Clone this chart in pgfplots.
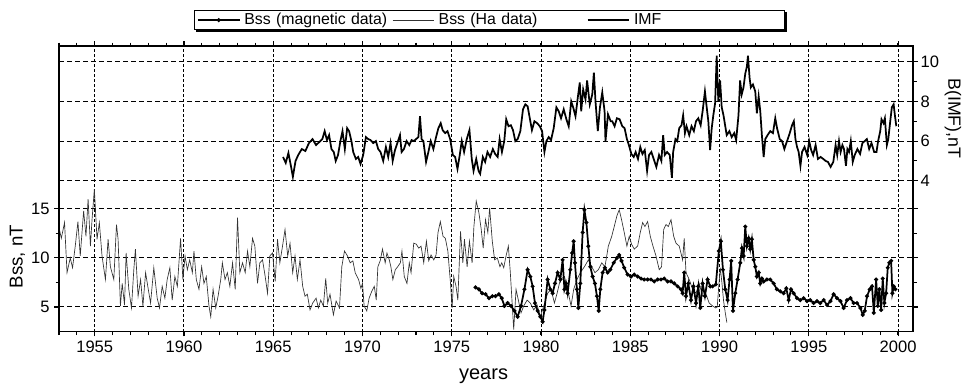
\documentclass[border=0pt]{standalone}
\usepackage{fontspec}
\setmainfont{Liberation Sans}
\usepackage{pgfplots}
\pgfplotsset{compat=1.18}

\begin{document}
\begin{tikzpicture}
\useasboundingbox (0pt,0pt) rectangle (722.25pt,290.25pt);
\pgfplotsset{
  magstyle/.style={black, line width=1.3pt, mark=*, mark size=0.75pt, mark options={solid}},
  hastyle/.style={black!80, line width=0.5pt, mark=none},
  imfstyle/.style={black, line width=1.3pt, mark=none},
  /pgf/number format/assume math mode=true,
  /pgf/number format/1000 sep={},
}
% ---------------- Bss axis (left) ----------------
\begin{axis}[
  at={(44.25pt,41.475pt)}, anchor=south west,
  scale only axis, width=640.7pt, height=214.3pt,
  xmin=1953, xmax=2000.85,
  ymin=2.48, ymax=31.6,
  axis line style={line width=0.8pt},
  tick align=outside,
  xtick={1955,1960,...,2000},
  minor xtick={1953,...,2000},
  ytick={10,15},
  extra y ticks={5},
  extra y tick style={grid style={black!45, line width=0.6pt, dash pattern=on 3.75pt off 2.25pt}},
  minor ytick={7.5,12.5},
  major tick length=3.5pt, minor tick length=2.5pt,
  tick style={black, line width=0.8pt},
  xmajorgrids, ymajorgrids,
  x grid style={black, line width=0.75pt, dash pattern=on 2.25pt off 1.5pt},
  y grid style={black, line width=0.75pt, dash pattern=on 3.75pt off 2.25pt},
  ticklabel style={font=\fontsize{12.4}{14}\selectfont},
  xlabel={years}, ylabel={Bss, nT},
  every axis x label/.style={at={(axis description cs:0.497,-0.155)}, anchor=center, font=\fontsize{15}{17}\selectfont},
  every axis y label/.style={at={(axis description cs:-0.0486,0.263)}, anchor=center, rotate=90, font=\fontsize{14}{16}\selectfont},
  clip=true,
]
\addplot[hastyle] coordinates {
(1953.00,13.1)(1953.13,12.0)(1953.31,13.6)(1953.45,8.5)(1953.63,10.0)(1953.76,9.0)(1953.91,11.2)
(1954.06,13.7)(1954.19,10.2)(1954.38,14.8)(1954.51,12.2)(1954.63,16.0)(1954.76,11.2)(1954.85,13.9)
(1954.98,17.0)(1955.13,11.9)(1955.26,13.6)(1955.41,10.2)(1955.60,7.8)(1955.75,11.9)(1955.88,9.1)
(1956.07,7.8)(1956.22,13.4)(1956.31,11.9)(1956.44,5.1)(1956.54,7.4)(1956.67,5.2)(1956.76,10.5)
(1956.91,6.8)(1957.06,4.9)(1957.19,8.8)(1957.28,10.9)(1957.43,6.1)(1957.57,7.8)(1957.70,5.1)
(1957.85,8.5)(1958.00,6.8)(1958.13,5.4)(1958.31,9.0)(1958.50,5.9)(1958.63,4.9)(1958.78,7.1)
(1958.93,5.9)(1959.06,7.8)(1959.21,9.0)(1959.34,5.7)(1959.49,8.1)(1959.63,7.1)(1959.81,12.0)
(1959.94,7.8)(1960.06,10.2)(1960.19,8.8)(1960.32,9.8)(1960.47,8.5)(1960.56,10.7)(1960.69,7.8)
(1960.84,6.8)(1960.99,9.1)(1961.12,7.4)(1961.25,8.1)(1961.40,5.1)(1961.50,4.0)(1961.63,6.8)
(1961.78,4.9)(1961.91,6.1)(1962.06,7.8)(1962.15,9.5)(1962.30,7.8)(1962.43,8.5)(1962.57,7.1)
(1962.72,9.5)(1962.87,6.8)(1963.00,14.1)(1963.13,8.5)(1963.28,9.5)(1963.43,8.5)(1963.56,10.7)
(1963.69,9.1)(1963.84,12.0)(1963.97,11.2)(1964.12,7.4)(1964.25,9.5)(1964.40,9.8)(1964.55,8.1)
(1964.68,6.4)(1964.81,10.2)(1964.96,10.5)(1965.11,7.6)(1965.24,11.9)(1965.37,9.5)(1965.52,11.2)
(1965.66,12.9)(1965.81,10.2)(1965.94,11.5)(1966.09,8.5)(1966.22,10.2)(1966.35,7.8)(1966.50,9.8)
(1966.65,7.1)(1966.78,6.1)(1966.91,6.3)(1967.06,4.7)(1967.21,5.4)(1967.40,5.9)(1967.53,4.9)
(1967.66,5.7)(1967.81,5.1)(1967.94,7.9)(1968.05,5.4)(1968.18,6.3)(1968.37,4.2)(1968.52,5.6)
(1968.71,4.9)(1968.84,9.1)(1968.99,10.7)(1969.16,10.2)(1969.31,9.5)(1969.46,9.7)(1969.59,8.5)
(1969.78,7.8)(1969.91,6.9)(1970.00,7.4)(1970.09,5.1)(1970.24,4.6)(1970.37,5.9)(1970.52,6.6)
(1970.66,7.1)(1970.77,5.7)(1970.86,9.1)(1970.99,9.7)(1971.12,10.9)(1971.27,9.5)(1971.37,10.5)
(1971.50,9.8)(1971.59,9.1)(1971.70,7.8)(1971.84,8.8)(1971.97,9.1)(1972.12,9.5)(1972.21,10.7)
(1972.34,8.1)(1972.49,7.4)(1972.62,9.5)(1972.72,8.5)(1972.87,11.5)(1973.01,11.4)(1973.15,11.0)
(1973.28,11.2)(1973.43,9.5)(1973.58,11.7)(1973.71,9.7)(1973.84,10.3)(1973.99,9.8)(1974.12,10.3)
(1974.23,12.6)(1974.36,13.7)(1974.51,12.2)(1974.64,12.0)(1974.78,10.7)(1974.93,7.4)(1975.02,4.9)
(1975.11,8.1)(1975.24,7.1)(1975.34,5.7)(1975.49,12.7)(1975.62,9.5)(1975.71,11.9)(1975.86,9.1)
(1975.99,11.7)(1976.14,9.5)(1976.24,13.2)(1976.37,15.8)(1976.52,14.6)(1976.65,12.9)(1976.76,11.0)
(1976.89,13.9)(1977.02,12.6)(1977.12,15.1)(1977.27,11.7)(1977.40,9.8)(1977.55,10.0)(1977.70,9.1)
(1977.80,9.5)(1977.91,9.0)(1978.04,10.2)(1978.17,11.2)(1978.28,8.5)(1978.47,2.7)(1978.60,6.8)
(1978.73,5.7)(1978.88,4.4)(1979.03,5.1)(1979.22,5.7)(1979.40,5.4)(1979.59,4.7)(1979.78,5.2)
(1979.96,4.0)(1980.15,5.1)(1980.37,6.4)(1980.56,6.8)(1980.75,5.4)(1980.90,6.4)(1981.08,7.8)
(1981.31,8.1)(1981.49,6.8)(1981.68,5.1)(1981.83,6.8)(1982.01,7.8)(1982.20,8.5)(1982.43,9.1)
(1982.65,9.8)(1982.84,9.1)(1983.02,8.5)(1983.21,8.8)(1983.40,9.5)(1983.58,9.1)(1983.77,11.2)
(1983.96,12.2)(1984.10,13.2)(1984.25,14.3)(1984.38,14.9)(1984.51,13.9)(1984.66,12.6)(1984.81,11.2)
(1984.94,12.2)(1985.07,11.4)(1985.22,10.9)(1985.41,11.2)(1985.56,12.6)(1985.69,13.6)(1985.82,13.2)
(1985.97,13.7)(1986.12,12.2)(1986.27,11.2)(1986.44,10.2)(1986.62,8.8)(1986.75,9.1)(1986.87,12.9)
(1987.00,13.4)(1987.13,13.2)(1987.28,13.9)(1987.43,12.2)(1987.56,11.5)(1987.74,11.2)(1987.93,9.8)
(1988.02,12.0)(1988.12,8.5)(1988.30,7.8)(1988.49,6.8)(1988.68,6.4)(1988.86,7.4)(1989.05,6.1)
(1989.24,6.3)(1989.42,5.4)(1989.61,5.1)(1989.79,4.9)(1989.87,5.0)(1989.95,7.0)(1990.04,9.0)
(1990.13,7.5)(1990.22,5.7)(1990.32,4.4)(1990.41,3.4)
};
\addplot[magstyle] coordinates {
(1976.33,7.0)(1976.52,6.8)(1976.70,6.4)(1976.89,6.3)(1977.08,5.9)(1977.27,6.1)(1977.45,6.1)
(1977.64,6.3)(1977.80,5.9)(1977.95,5.1)(1978.13,5.4)(1978.32,5.1)(1978.51,4.6)(1978.69,4.0)
(1978.88,5.1)(1979.07,6.8)(1979.25,8.8)(1979.40,8.1)(1979.53,7.1)(1979.66,5.4)(1979.81,4.6)
(1979.96,4.0)(1980.09,3.5)(1980.19,4.7)(1980.37,7.8)(1980.52,6.8)(1980.65,6.4)(1980.78,7.4)
(1980.93,8.5)(1981.08,7.8)(1981.21,9.8)(1981.31,6.8)(1981.40,7.4)(1981.49,6.4)(1981.64,8.8)
(1981.74,10.5)(1981.83,11.7)(1981.90,9.5)(1982.01,6.8)(1982.09,4.9)(1982.20,7.4)(1982.33,12.6)
(1982.43,14.9)(1982.54,13.6)(1982.65,11.2)(1982.76,9.1)(1982.89,8.1)(1983.02,7.4)(1983.13,6.1)
(1983.23,4.6)(1983.32,6.8)(1983.45,8.5)(1983.58,9.0)(1983.73,8.5)(1983.88,8.8)(1984.07,9.5)
(1984.25,10.0)(1984.38,10.3)(1984.51,9.7)(1984.66,9.0)(1984.85,8.3)(1985.04,8.1)(1985.22,8.3)
(1985.41,8.1)(1985.60,7.9)(1985.78,7.8)(1985.97,7.8)(1986.16,7.8)(1986.34,7.6)(1986.53,7.8)
(1986.72,7.8)(1986.90,7.9)(1987.09,7.6)(1987.28,7.6)(1987.46,7.4)(1987.65,7.1)(1987.84,6.8)
(1987.93,6.4)(1988.02,8.5)(1988.12,6.1)(1988.25,7.4)(1988.40,5.7)(1988.54,7.1)(1988.68,5.4)
(1988.81,7.1)(1988.92,4.9)(1989.05,7.4)(1989.18,6.1)(1989.33,7.8)(1989.48,7.1)(1989.61,7.1)
(1989.79,7.3)(1989.96,10.7)(1990.07,11.7)(1990.19,8.8)(1990.32,6.8)(1990.45,5.7)(1990.56,7.8)
(1990.65,9.7)(1990.75,4.6)(1990.88,6.4)(1991.01,7.8)(1991.16,9.5)(1991.25,11.0)(1991.35,10.2)
(1991.44,13.2)(1991.53,11.2)(1991.63,12.0)(1991.72,10.9)(1991.81,11.9)(1991.91,9.8)(1992.00,9.1)
(1992.09,8.1)(1992.19,8.5)(1992.28,7.4)(1992.37,7.9)(1992.47,7.6)(1992.65,7.8)(1992.84,7.8)
(1993.03,7.4)(1993.21,6.8)(1993.40,6.6)(1993.59,6.4)(1993.74,6.9)(1993.87,5.7)(1994.00,6.8)
(1994.15,6.4)(1994.34,5.9)(1994.52,5.7)(1994.71,5.9)(1994.90,5.6)(1995.08,5.7)(1995.27,5.4)
(1995.46,5.6)(1995.64,5.4)(1995.83,5.7)(1996.02,5.2)(1996.21,5.6)(1996.39,6.3)(1996.58,5.9)
(1996.77,5.6)(1996.95,4.9)(1997.14,5.7)(1997.33,5.9)(1997.51,5.4)(1997.70,5.4)(1997.89,4.9)
(1998.02,4.2)(1998.13,4.6)(1998.26,6.1)(1998.41,6.8)(1998.54,7.1)(1998.64,4.4)(1998.77,7.8)
(1998.86,5.1)(1998.95,6.8)(1999.05,4.7)(1999.14,7.9)(1999.23,5.4)(1999.33,6.4)(1999.42,9.0)
(1999.51,9.5)(1999.61,9.7)(1999.68,6.4)(1999.76,7.1)(1999.85,6.8)
};
\draw[line width=1.6pt] (rel axis cs:0,0) -- (rel axis cs:1,0);
\draw[line width=1.6pt] (rel axis cs:0,0) -- (rel axis cs:0,1);
\end{axis}
% ---------------- IMF axis (right) ----------------
\begin{axis}[
  at={(44.25pt,41.475pt)}, anchor=south west,
  scale only axis, width=640.7pt, height=214.3pt,
  xmin=1953, xmax=2000.85,
  ymin=-3.6, ymax=10.79,
  axis x line=none,
  axis y line*=right,
  y axis line style={line width=1.6pt, -},
  tick align=outside,
  ytick={4,6,8},
  extra y ticks={10},
  extra y tick style={grid style={black!45, line width=0.6pt, dash pattern=on 3.75pt off 2.25pt}},
  minor ytick={5,7,9},
  major tick length=3.5pt, minor tick length=2.5pt,
  tick style={black, line width=0.8pt},
  ymajorgrids,
  y grid style={black, line width=0.75pt, dash pattern=on 3.75pt off 2.25pt},
  ticklabel style={font=\fontsize{12.4}{14}\selectfont},
  yticklabel style={xshift=-1.5pt},
  ylabel={B(IMF),nT},
  every axis y label/.style={at={(axis description cs:1.0465,0.747)}, anchor=center, rotate=-90, font=\fontsize{13.3}{15}\selectfont},
  legend columns=3,
  legend image code/.code={\draw[mark repeat=2,mark phase=2,#1] plot coordinates {(0pt,0pt) (15.6pt,0pt) (31.2pt,0pt)};},
  legend style={at={(axis description cs:0.504,1.056)}, anchor=south, name=leg,
    draw=black, line width=0.6pt, fill=white,
    inner xsep=2pt, inner ysep=0.5pt,
    font=\fontsize{11.9}{13}\selectfont,
    nodes={text width=108pt, align=left, inner xsep=3pt, inner ysep=1.5pt},
    /tikz/every even column/.style={column sep=0pt}},
]
\addlegendimage{magstyle}
\addlegendentry{Bss (magnetic data)}
\addlegendimage{hastyle}
\addlegendentry{Bss (Ha data)}
\addplot[imfstyle] coordinates {
(1965.55,5.2)(1965.70,4.9)(1965.85,5.4)(1966.00,4.7)(1966.10,4.2)(1966.25,5.0)(1966.40,5.3)
(1966.60,5.6)(1966.80,5.5)(1967.00,5.9)(1967.20,6.1)(1967.40,5.8)
(1967.60,5.97)(1967.75,6.1)(1967.88,6.5)(1968.01,6.05)(1968.13,6.3)(1968.26,5.6)(1968.39,5.45)
(1968.50,5.0)(1968.63,5.3)(1968.76,6.0)(1968.88,6.5)(1969.01,5.6)(1969.14,6.65)(1969.25,6.5)
(1969.38,6.0)(1969.48,5.45)(1969.63,5.1)(1969.76,5.2)(1969.89,4.85)(1970.04,5.3)(1970.19,6.2)
(1970.32,6.1)(1970.45,6.05)(1970.60,5.9)(1970.75,6.0)(1970.88,5.6)(1971.01,5.45)(1971.16,5.0)
(1971.31,5.7)(1971.44,5.2)(1971.57,5.9)(1971.69,5.0)(1971.82,5.55)(1971.95,5.9)(1972.10,6.3)
(1972.19,5.45)(1972.32,5.6)(1972.47,6.0)(1972.62,5.8)(1972.75,6.05)(1972.88,6.0)(1973.00,6.1)
(1973.13,6.2)(1973.22,7.25)(1973.31,6.1)(1973.41,6.0)(1973.56,4.95)(1973.69,5.45)(1973.82,6.0)
(1973.97,5.6)(1974.12,6.2)(1974.25,6.65)(1974.38,6.9)(1974.49,6.55)(1974.63,6.4)(1974.76,6.5)
(1974.91,6.1)(1975.06,5.3)(1975.19,5.2)(1975.32,4.6)(1975.43,5.2)(1975.56,6.0)(1975.69,5.45)
(1975.84,6.1)(1975.99,6.55)(1976.12,5.1)(1976.22,4.5)(1976.37,5.1)(1976.50,4.5)(1976.59,4.35)
(1976.74,5.2)(1976.87,4.95)(1977.00,5.45)(1977.15,5.2)(1977.30,5.6)(1977.43,5.35)(1977.57,5.2)
(1977.68,6.1)(1977.81,5.45)(1977.94,6.0)(1978.05,7.1)(1978.18,6.75)(1978.31,6.8)(1978.43,6.55)
(1978.56,6.0)(1978.69,6.1)(1978.84,6.5)(1978.99,7.6)(1979.12,7.85)(1979.25,7.75)(1979.40,7.0)
(1979.49,6.55)(1979.63,7.0)(1979.78,6.9)(1979.93,6.75)(1980.06,6.5)(1980.19,5.45)(1980.30,6.0)
(1980.43,6.2)(1980.56,6.05)(1980.71,6.65)(1980.86,7.7)(1980.99,7.5)(1981.12,7.15)(1981.27,7.6)
(1981.42,7.1)(1981.55,6.75)(1981.69,8.0)(1981.80,7.7)(1981.93,7.25)(1982.06,8.2)(1982.17,8.95)
(1982.25,7.5)(1982.36,8.6)(1982.49,8.1)(1982.58,9.05)(1982.73,7.85)(1982.87,8.35)(1982.96,9.45)
(1983.05,8.0)(1983.18,6.5)(1983.30,7.7)(1983.43,8.45)(1983.56,7.5)(1983.61,6.0)(1983.75,7.35)
(1983.90,7.0)(1983.99,7.0)(1984.12,6.75)(1984.25,7.15)(1984.40,7.1)(1984.55,6.75)(1984.68,6.65)
(1984.81,6.1)(1984.92,5.8)(1985.06,5.35)(1985.19,5.2)(1985.30,5.45)(1985.43,5.1)(1985.56,5.7)
(1985.68,5.35)(1985.81,5.55)(1985.94,4.5)(1986.05,5.3)(1986.18,5.45)(1986.31,5.1)(1986.46,4.7)
(1986.61,5.3)(1986.74,5.0)(1986.84,6.3)(1986.93,5.3)(1987.06,5.45)(1987.21,5.3)(1987.33,4.15)
(1987.40,5.45)(1987.53,6.1)(1987.63,6.0)(1987.74,6.65)(1987.87,6.8)(1987.96,7.3)(1988.06,6.4)
(1988.15,6.75)(1988.30,6.3)(1988.43,6.75)(1988.56,6.5)(1988.68,7.0)(1988.81,7.15)(1988.94,6.8)
(1989.05,7.5)(1989.18,8.5)(1989.28,7.7)(1989.37,7.0)(1989.47,5.55)(1989.56,6.65)(1989.65,7.3)
(1989.75,7.9)(1989.84,10.3)(1989.93,8.0)(1990.03,9.05)(1990.12,7.7)(1990.22,7.3)(1990.31,6.8)
(1990.40,6.3)(1990.55,6.5)(1990.68,6.2)(1990.82,6.4)(1990.93,6.05)(1991.06,7.3)(1991.15,9.05)
(1991.24,8.35)(1991.34,8.7)(1991.44,9.4)(1991.53,9.75)(1991.59,10.3)(1991.68,9.2)(1991.75,8.7)
(1991.87,8.85)(1992.00,8.5)(1992.09,7.4)(1992.19,8.25)(1992.28,7.5)(1992.37,6.3)(1992.47,5.2)
(1992.56,6.1)(1992.69,6.3)(1992.84,6.5)(1992.99,6.4)(1993.12,7.15)(1993.22,6.65)(1993.37,6.1)
(1993.50,6.0)(1993.63,5.6)(1993.78,6.0)(1993.93,6.4)(1994.06,6.8)(1994.16,7.0)(1994.25,6.1)
(1994.34,5.7)(1994.43,5.45)(1994.53,4.75)(1994.62,5.45)(1994.76,5.7)(1994.91,5.3)(1995.02,6.0)
(1995.13,5.55)(1995.24,5.3)(1995.38,5.8)(1995.51,5.1)(1995.66,5.2)(1995.81,5.1)(1995.94,5.0)
(1996.07,4.95)(1996.22,4.7)(1996.37,4.95)(1996.50,5.8)(1996.59,5.3)(1996.69,6.0)(1996.78,5.45)
(1996.88,5.8)(1996.97,5.6)(1997.08,4.75)(1997.16,5.6)(1997.25,5.45)(1997.35,6.0)(1997.46,4.95)
(1997.57,5.3)(1997.72,5.6)(1997.87,5.35)(1998.00,5.9)(1998.13,6.0)(1998.25,6.1)(1998.38,5.6)
(1998.51,5.9)(1998.66,5.45)(1998.79,5.45)(1998.88,6.0)(1999.00,6.5)(1999.07,7.1)(1999.18,6.9)
(1999.26,7.15)(1999.37,5.8)(1999.45,6.1)(1999.56,7.0)(1999.65,7.7)(1999.75,7.85)(1999.82,7.3)
(1999.90,6.75)
};
\addlegendentry{IMF}
\end{axis}
\fill[black] ([xshift=1.2pt,yshift=0.3pt]leg.south west) rectangle ([xshift=1.2pt,yshift=-1.6pt]leg.south east);
\fill[black] ([xshift=-0.3pt,yshift=-1.6pt]leg.south east) rectangle ([xshift=1.2pt,yshift=-1.2pt]leg.north east);
\end{tikzpicture}
\end{document}
